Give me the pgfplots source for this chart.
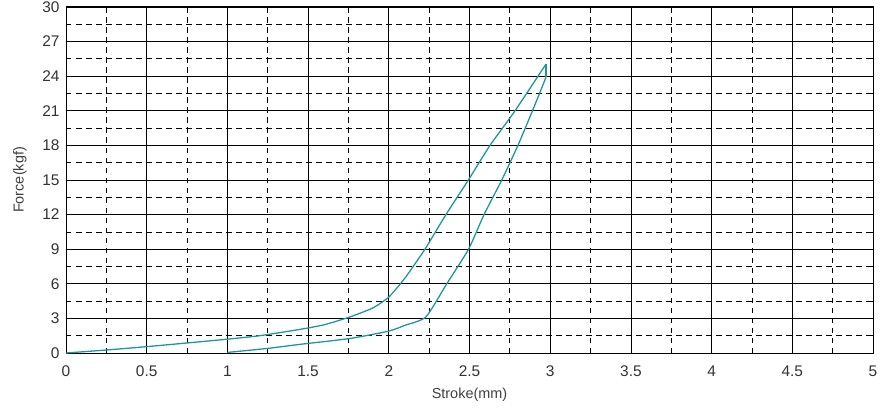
\documentclass[border=0pt]{standalone}
\usepackage{fontspec}
\setmainfont{Liberation Sans}
\usepackage{pgfplots}
\pgfplotsset{compat=1.18}
\definecolor{curve}{RGB}{32,150,150}
\begin{document}
\begin{tikzpicture}
\begin{axis}[
  name=ax,
  scale only axis,
  width=807bp, height=346bp,
  xmin=0, xmax=5, ymin=0, ymax=30,
  xtick={0,0.5,...,5}, ytick={0,3,...,30},
  xticklabels={0,0.5,1,1.5,2,2.5,3,3.5,4,4.5,5},
  minor x tick num=1, minor y tick num=1,
  grid=both,
  major grid style={black, line width=0.8pt},
  minor grid style={black, line width=0.8pt, dash pattern=on 5.5bp off 4.5bp},
  axis line style={black, line width=1pt},
  tick style={black, line width=0.8pt},
  major tick length=0pt, minor tick length=4bp,
  tick align=inside,
  /pgf/number format/assume math mode=true,
  ticklabel style={font=\fontsize{15.5}{17}\selectfont, text=black!80},
  xticklabel style={yshift=-9bp},
  yticklabel style={xshift=-3bp},
  xlabel={Stroke(mm)}, ylabel={Force(kgf)},
  label style={font=\fontsize{14.5}{16}\selectfont, text=black!75},
  xlabel style={at={([yshift=-42bp]axis description cs:0.5,0)}, anchor=center},
  ylabel style={at={([xshift=-46bp]axis description cs:0,0.5)}, anchor=center},
]
\addplot[curve, line width=1.3pt, smooth, tension=0.35] coordinates {
(0,0) (0.25,0.26) (0.5,0.55) (0.75,0.87) (1.0,1.2) (1.2,1.5) (1.45,2.05) (1.6,2.45) (1.76,3.13) (1.9,3.9) (2.0,4.85) (2.1,6.5) (2.224,9.0) (2.354,12.0) (2.493,15.0) (2.627,18.0) (2.782,21.0) (2.974,25.05)
};
\addplot[curve, line width=1.3pt] coordinates {(2.974,25.05) (2.974,23.9)};
\addplot[curve, line width=1.3pt, smooth, tension=0.35] coordinates {
(2.974,23.9) (2.89,21) (2.80,18) (2.70,15) (2.59,12) (2.494,9) (2.359,6) (2.23,3.13) (2.1,2.4) (2.0,1.9) (1.76,1.26) (1.45,0.75) (1.25,0.4) (1.0,0.05)
};
\end{axis}
\pgfresetboundingbox
\useasboundingbox ([shift={(-66bp,-57bp)}]ax.south west) rectangle ([shift={(8bp,7bp)}]ax.north east);
\end{tikzpicture}
\end{document}
